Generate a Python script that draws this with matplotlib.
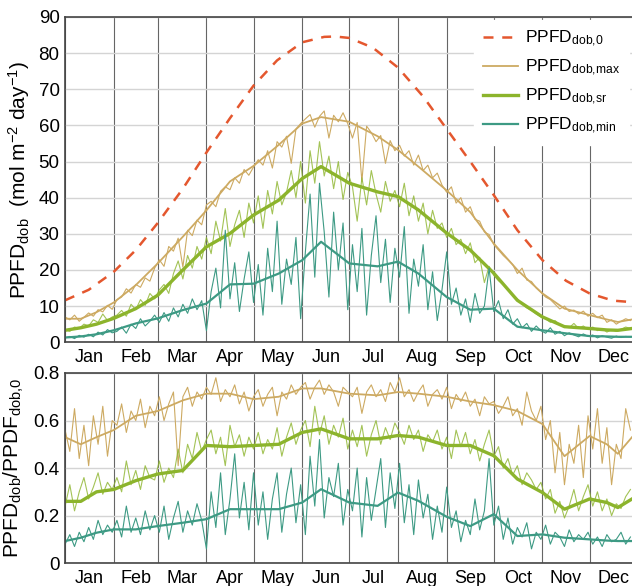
import numpy as np
import matplotlib
matplotlib.use('Agg')
import matplotlib.pyplot as plt

plt.rcParams['font.family'] = ['Liberation Sans', 'DejaVu Sans']
plt.rcParams['mathtext.default'] = 'regular'

# month labels and first day of each month (day of year, 0 = Jan 1)
months = ['Jan', 'Feb', 'Mar', 'Apr', 'May', 'Jun', 'Jul', 'Aug', 'Sep', 'Oct', 'Nov', 'Dec']
month_start = [0, 31, 59, 90, 120, 151, 181, 212, 243, 273, 304, 334, 365]

# clear-sky curve PPFD_dob,0
days_0 = [0, 15, 31, 45, 59, 75, 90, 105, 120, 135, 151, 165, 172, 181, 196, 212, 228, 243, 258, 273, 288, 304, 319, 334, 349, 361]
ppfd_0 = [11.6, 14.5, 19.5, 25.5, 33.0, 42.5, 52.5, 62.0, 71.0, 78.0, 83.0, 84.5, 84.6, 84.2, 81.5, 76.0, 68.0, 59.0, 50.0, 40.7, 31.0, 22.7, 17.0, 13.5, 11.5, 11.1]

# daily values read every 3rd day
days_n = list(range(0, 361, 3))

max_n = [7.0, 6.2, 7.5, 5.8, 6.9, 8.1, 7.2, 9.0, 8.4, 10.2, 9.1,
         11.8, 12.5, 14.8, 13.6, 16.0, 15.2, 17.8, 16.9, 20.5, 22.8,
         21.0, 26.5, 25.2, 28.8, 20.8, 31.0, 29.5, 33.8, 32.5, 38.0,
         39.0, 37.5, 41.8, 43.0, 42.2, 45.5, 44.0, 47.8, 46.2, 48.5,
         50.5, 49.0, 53.0, 48.2, 55.5, 54.0, 57.0, 49.5, 59.0, 60.5,
         61.8, 63.0, 59.5, 62.5, 64.0, 56.5, 62.8, 61.0, 63.5, 60.5,
         56.5, 60.8, 44.5, 59.8, 58.0, 55.5, 57.2, 49.5, 55.8, 53.0,
         54.5, 51.5, 53.0, 49.0, 51.8, 47.5, 49.0, 45.5, 46.8, 43.5,
         41.5, 43.0, 38.5, 40.0, 36.0, 37.5, 34.0, 33.5, 30.5, 29.8,
         27.0, 25.5, 24.0, 22.8, 21.5, 19.0, 20.5, 17.2, 16.8, 15.0,
         13.8, 12.5, 11.8, 10.5, 9.2, 10.0, 8.5, 8.9, 7.8, 8.6,
         7.2, 8.0, 6.8, 7.5, 5.5, 6.2, 5.0, 5.8, 6.5, 6.0]

sr_n = [3.5, 3.0, 4.2, 3.8, 5.0, 4.5, 6.2, 5.5, 7.8, 6.0, 7.0,
        7.5, 8.8, 7.2, 10.5, 9.0, 11.8, 10.2, 13.5, 12.0, 14.5,
        16.0, 13.5, 19.0, 22.5, 17.5, 24.0, 20.5, 26.5, 23.0, 29.0,
        24.5, 33.5, 28.0, 37.0, 26.5, 32.5, 36.5, 29.0, 38.5, 33.0,
        40.5, 31.5, 42.0, 35.5, 44.5, 38.0, 41.5, 47.5, 40.0, 50.0,
        38.5, 53.0, 44.0, 55.5, 46.0, 51.5, 42.5, 50.0, 39.5, 47.0,
        43.0, 33.5, 45.5, 38.0, 47.5, 41.0, 36.0, 44.5, 39.0, 42.0,
        37.5, 44.0, 35.0, 40.5, 33.5, 38.5, 30.0, 36.5, 31.5, 33.0,
        29.0, 31.5, 27.0, 28.5, 24.5, 27.5, 22.0, 23.5, 16.5, 21.0,
        18.5, 17.0, 16.0, 14.5, 13.0, 12.0, 10.5, 9.5, 8.8, 7.8,
        7.0, 6.5, 5.5, 6.0, 4.8, 4.5, 4.0, 5.2, 3.8, 4.5,
        3.5, 4.2, 3.2, 3.8, 2.8, 3.5, 3.0, 3.6, 4.2, 3.8]

min_n = [1.2, 1.6, 1.0, 1.9, 1.4, 2.2, 1.5, 2.8, 2.0, 3.5, 2.6,
         3.0, 4.2, 2.5, 5.0, 3.8, 6.5, 4.5, 5.8, 7.5, 5.5,
         8.2, 5.8, 9.5, 7.0, 10.5, 8.0, 12.0, 9.0, 11.5, 3.2,
         14.0, 20.5, 9.5, 31.0, 12.0, 22.0, 8.5, 17.5, 25.0, 11.0,
         21.5, 7.5, 26.0, 14.0, 33.5, 10.5, 23.0, 16.0, 29.0, 6.5,
         25.0, 41.0, 18.0, 44.0, 30.5, 12.5, 36.0, 20.0, 33.0, 9.0,
         27.0, 14.0, 31.5, 7.5, 24.0, 35.0, 16.5, 28.5, 11.0, 26.0,
         18.0, 32.0, 8.0, 23.0, 15.5, 27.0, 9.0, 19.5, 6.0, 14.5,
         25.0, 10.5, 15.0, 7.5, 12.0, 5.5, 13.5, 8.0, 10.0, 20.5,
         8.5, 11.5, 6.5, 9.0, 5.0, 6.5, 4.0, 5.2, 3.0, 4.5,
         3.2, 2.5, 4.0, 2.2, 3.0, 1.8, 2.6, 2.0, 1.5, 2.3,
         1.6, 2.0, 1.2, 1.8, 1.4, 1.1, 1.7, 1.3, 1.6, 1.5]

r_max_n = [0.56, 0.47, 0.65, 0.44, 0.58, 0.41, 0.62, 0.50, 0.66, 0.45, 0.60,
           0.58, 0.67, 0.55, 0.64, 0.60, 0.69, 0.57, 0.66, 0.62, 0.70,
           0.60, 0.67, 0.72, 0.41, 0.70, 0.74, 0.66, 0.72, 0.69, 0.74,
           0.71, 0.78, 0.68, 0.73, 0.70, 0.75, 0.67, 0.72, 0.64, 0.70,
           0.73, 0.66, 0.71, 0.74, 0.62, 0.72, 0.69, 0.75, 0.71, 0.74,
           0.76, 0.69, 0.74, 0.77, 0.71, 0.75, 0.72, 0.66, 0.74, 0.72,
           0.70, 0.74, 0.63, 0.72, 0.75, 0.70, 0.73, 0.68, 0.76, 0.72,
           0.78, 0.70, 0.73, 0.68, 0.72, 0.75, 0.66, 0.71, 0.73, 0.69,
           0.74, 0.65, 0.71, 0.68, 0.72, 0.66, 0.69, 0.62, 0.70, 0.67,
           0.68, 0.63, 0.66, 0.70, 0.62, 0.65, 0.58, 0.72, 0.64, 0.60,
           0.66, 0.52, 0.60, 0.38, 0.55, 0.33, 0.50, 0.42, 0.58, 0.36,
           0.62, 0.48, 0.65, 0.42, 0.57, 0.33, 0.50, 0.44, 0.65, 0.56]

r_sr_n = [0.24, 0.33, 0.22, 0.30, 0.36, 0.27, 0.32, 0.38, 0.29, 0.34, 0.31,
          0.36, 0.30, 0.43, 0.33, 0.39, 0.31, 0.41, 0.36, 0.35, 0.43,
          0.34, 0.40, 0.36, 0.48, 0.38, 0.50, 0.44, 0.55, 0.47, 0.52,
          0.56, 0.46, 0.53, 0.41, 0.58, 0.49, 0.54, 0.45, 0.53, 0.48,
          0.55, 0.46, 0.52, 0.48, 0.57, 0.45, 0.53, 0.59, 0.50, 0.56,
          0.60, 0.49, 0.66, 0.54, 0.62, 0.50, 0.58, 0.53, 0.61, 0.48,
          0.56, 0.49, 0.58, 0.45, 0.54, 0.60, 0.50, 0.57, 0.52, 0.59,
          0.55, 0.50, 0.58, 0.52, 0.56, 0.47, 0.54, 0.51, 0.56, 0.48,
          0.53, 0.44, 0.56, 0.49, 0.55, 0.46, 0.52, 0.43, 0.50, 0.56,
          0.45, 0.49, 0.40, 0.44, 0.37, 0.41, 0.33, 0.38, 0.35, 0.31,
          0.34, 0.27, 0.31, 0.21, 0.26, 0.19, 0.24, 0.31, 0.22, 0.28,
          0.33, 0.24, 0.30, 0.22, 0.27, 0.20, 0.25, 0.23, 0.28, 0.31]

r_min_n = [0.08, 0.12, 0.07, 0.13, 0.09, 0.15, 0.10, 0.18, 0.12, 0.16, 0.13,
           0.18, 0.11, 0.24, 0.13, 0.19, 0.12, 0.22, 0.14, 0.20, 0.13,
           0.24, 0.10, 0.19, 0.26, 0.13, 0.22, 0.16, 0.25, 0.18, 0.06,
           0.30, 0.15, 0.38, 0.12, 0.27, 0.46, 0.19, 0.34, 0.14, 0.38,
           0.16, 0.30, 0.10, 0.27, 0.38, 0.13, 0.29, 0.40, 0.17, 0.33,
           0.12, 0.45, 0.24, 0.52, 0.19, 0.36, 0.28, 0.42, 0.16, 0.31,
           0.22, 0.40, 0.11, 0.36, 0.18, 0.31, 0.44, 0.15, 0.38, 0.23,
           0.42, 0.17, 0.33, 0.12, 0.35, 0.19, 0.29, 0.10, 0.24, 0.13,
           0.32, 0.15, 0.22, 0.09, 0.18, 0.12, 0.27, 0.14, 0.22, 0.44,
           0.16, 0.24, 0.10, 0.19, 0.08, 0.15, 0.11, 0.17, 0.06, 0.13,
           0.10, 0.16, 0.08, 0.13, 0.11, 0.07, 0.14, 0.09, 0.12, 0.10,
           0.13, 0.08, 0.11, 0.07, 0.12, 0.09, 0.10, 0.13, 0.08, 0.11]

# smoothed curves
days_s = [0, 10, 20, 31, 45, 59, 75, 90, 105, 120, 136, 151, 163, 181, 199, 212, 225, 243, 258, 273, 288, 304, 318, 334, 345, 352, 361]
max_s = [6.5, 6.5, 8.3, 11.0, 15.8, 21.8, 29.2, 36.5, 44.5, 48.8, 54.6, 60.5, 62.3, 61.0, 57.0, 53.2, 48.6, 42.0, 36.0, 27.3, 20.0, 13.5, 9.3, 7.5, 6.3, 5.6, 6.3]
sr_s = [3.3, 4.0, 5.0, 6.6, 9.3, 13.0, 20.0, 26.4, 30.1, 35.2, 39.3, 45.3, 48.6, 44.0, 41.6, 40.3, 36.6, 30.2, 25.5, 19.1, 11.6, 7.0, 4.3, 3.8, 3.4, 3.3, 3.8]
min_s = [1.3, 1.6, 2.2, 3.3, 5.2, 6.6, 8.9, 10.7, 16.0, 16.2, 19.0, 22.7, 27.8, 21.8, 21.0, 22.3, 19.0, 12.5, 9.0, 9.3, 4.3, 3.3, 2.5, 1.7, 1.6, 1.5, 1.5]
r_max_s = [0.53, 0.50, 0.53, 0.56, 0.62, 0.64, 0.685, 0.713, 0.713, 0.69, 0.70, 0.735, 0.735, 0.713, 0.706, 0.72, 0.713, 0.70, 0.68, 0.665, 0.64, 0.585, 0.45, 0.535, 0.50, 0.46, 0.53]
r_sr_s = [0.26, 0.26, 0.30, 0.31, 0.347, 0.375, 0.39, 0.495, 0.49, 0.495, 0.50, 0.55, 0.565, 0.523, 0.523, 0.537, 0.53, 0.495, 0.495, 0.452, 0.354, 0.297, 0.227, 0.27, 0.255, 0.234, 0.27]
r_min_s = [0.093, 0.107, 0.128, 0.142, 0.142, 0.156, 0.17, 0.185, 0.227, 0.227, 0.227, 0.255, 0.311, 0.255, 0.241, 0.297, 0.262, 0.195, 0.156, 0.206, 0.114, 0.121, 0.107, 0.1, 0.095, 0.093, 0.093]

c_0 = '#E4572E'
c_max = '#CDAA62'
c_sr = '#8CB42C'
c_min = '#3D9A84'

fig = plt.figure(figsize=(6.32, 5.86), dpi=100)
ax1 = fig.add_axes([0.103, 0.416, 0.897, 0.555])
ax2 = fig.add_axes([0.103, 0.039, 0.897, 0.3245])

# top panel
ax1.plot(days_0, ppfd_0, color=c_0, lw=1.8, dashes=(4, 3.5), label=r'PPFD$_{dob{,}0}$')
ax1.plot(days_n, max_n, color=c_max, lw=0.8)
ax1.plot(days_s, max_s, color=c_max, lw=1.3, label=r'PPFD$_{dob{,}max}$')
ax1.plot(days_n, sr_n, color=c_sr, lw=0.8, alpha=0.8)
ax1.plot(days_s, sr_s, color=c_sr, lw=2.4, label=r'PPFD$_{dob{,}sr}$')
ax1.plot(days_n, min_n, color=c_min, lw=0.8)
ax1.plot(days_s, min_s, color=c_min, lw=1.6, label=r'PPFD$_{dob{,}min}$')
ax1.set_ylim(0, 90)
ax1.set_yticks(range(0, 91, 10))
ax1.set_ylabel(r'PPFD$_{dob}$  (mol m$^{-2}$ day$^{-1}$)', fontsize=15, labelpad=5)
leg = ax1.legend(loc='upper right', bbox_to_anchor=(1.0, 1.0), fontsize=12.5,
                 frameon=True, fancybox=False, edgecolor='white', framealpha=1,
                 handlelength=2.0, handletextpad=0.4, borderaxespad=0.2,
                 borderpad=0.5, labelspacing=0.5)

# bottom panel
ax2.plot(days_n, r_max_n, color=c_max, lw=0.8)
ax2.plot(days_s, r_max_s, color=c_max, lw=1.3)
ax2.plot(days_n, r_sr_n, color=c_sr, lw=0.8, alpha=0.8)
ax2.plot(days_s, r_sr_s, color=c_sr, lw=2.4)
ax2.plot(days_n, r_min_n, color=c_min, lw=0.8)
ax2.plot(days_s, r_min_s, color=c_min, lw=1.6)
ax2.set_ylim(0, 0.8)
ax2.set_yticks([0, 0.2, 0.4, 0.6, 0.8])
ax2.set_yticklabels(['0', '0.2', '0.4', '0.6', '0.8'])
ax2.set_ylabel(r'PPFD$_{dob}$/PPDF$_{dob{,}0}$', fontsize=15, labelpad=5)

mid = [(month_start[i] + month_start[i + 1]) / 2 for i in range(12)]
for ax in (ax1, ax2):
    ax.set_xlim(0, 361)
    ax.set_xticks(month_start[:-1])
    ax.set_xticklabels([])
    ax.set_xticks(mid, minor=True)
    ax.set_xticklabels(months, minor=True)
    ax.tick_params(axis='x', which='both', length=0, labelsize=13, pad=5)
    ax.tick_params(axis='y', length=0, labelsize=13.5, pad=4)
    ax.grid(axis='y', color='#d4d4d4', lw=1)
    ax.grid(axis='x', which='major', color='#666666', lw=0.8)
    ax.set_axisbelow(True)
    ax.spines['right'].set_visible(False)
    for s in ('left', 'top', 'bottom'):
        ax.spines[s].set_color('#444444')
        ax.spines[s].set_linewidth(1.2)

fig.savefig('out.png', dpi=100)
